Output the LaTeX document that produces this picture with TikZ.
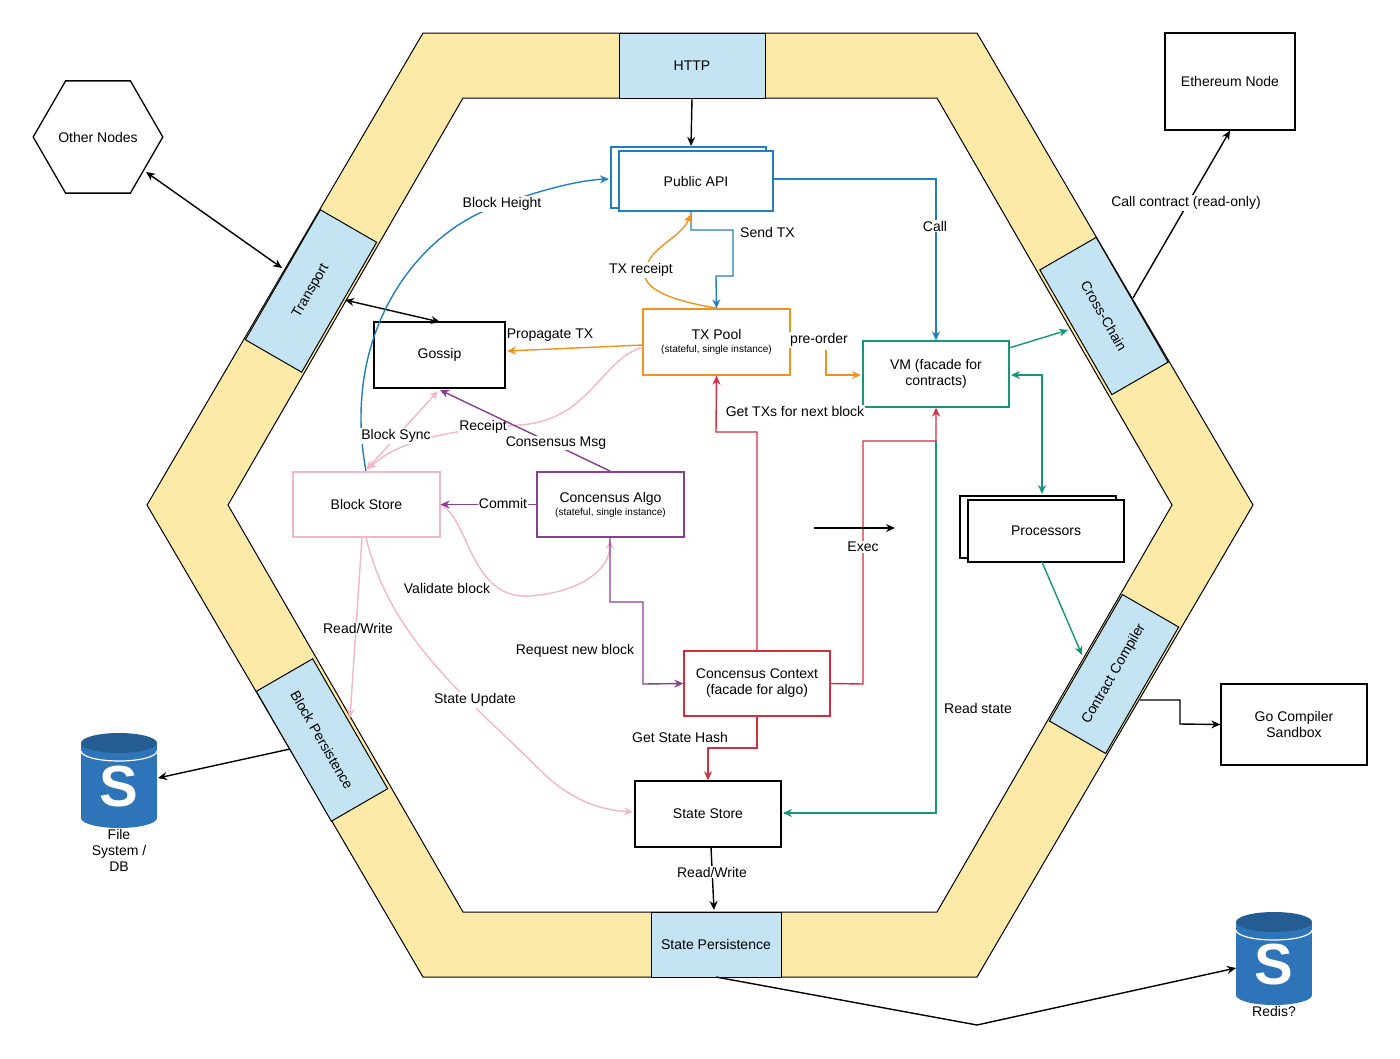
\documentclass[tikz,border=0pt]{standalone}
\usepackage{fontspec}
\setmainfont{Liberation Sans}
\usetikzlibrary{arrows.meta,shapes.geometric}
\definecolor{hexY}{HTML}{FDE9A8}
\definecolor{portB}{HTML}{C5E4F3}
\definecolor{apiB}{HTML}{1F7FBF}
\definecolor{poolO}{HTML}{F0921E}
\definecolor{vmG}{HTML}{16957A}
\definecolor{pinkP}{HTML}{F2B6CC}
\definecolor{purP}{HTML}{8A3E93}
\definecolor{redR}{HTML}{D12F3F}
\definecolor{cylB}{HTML}{2E74B8}
\begin{document}
\begin{tikzpicture}[x=1pt,y=-1pt,font=\fontsize{14}{16}\selectfont,
  box/.style={draw,line width=1.3pt,minimum width=146pt,minimum height=65pt,align=center,fill=white},
  port/.style={draw,line width=1pt,fill=portB,minimum width=#1,minimum height=65pt},
  lab/.style={fill=white,inner sep=1pt},
  arr/.style={line width=1.4pt,-{Stealth[length=9pt,width=8pt]}},
  darr/.style={line width=1.4pt,{Stealth[length=9pt,width=8pt]}-{Stealth[length=9pt,width=8pt]}}]
\useasboundingbox (0,0) rectangle (1400,1058);
% hexagons
\path[fill=hexY,draw=black,line width=1pt] (423,33)--(977,33)--(1253,505)--(977,977)--(423,977)--(147,505)--cycle;
\path[fill=white,draw=black,line width=1pt] (463,98)--(937,98)--(1172,505)--(937,912)--(463,912)--(228,505)--cycle;
% ports
\node[port=146pt] (http) at (692,65.5) {HTTP};
\node[port=130pt] (sp) at (716,944.5) {State Persistence};
\node[port=150pt,rotate=60] (tr) at (311,291) {Transport};
\node[port=150pt,rotate=-60] (bp) at (322,740) {Block Persistence};
\node[port=144pt,rotate=-60] (cc) at (1104,316) {Cross-Chain};
\node[port=146pt,rotate=60] (comp) at (1114,674) {Contract Compiler};
% outside nodes
\node[draw,line width=1.3pt,regular polygon,regular polygon sides=6,minimum size=128pt,inner sep=0pt] (on) at (98,137) {Other Nodes};
\node[box,minimum width=130pt,minimum height=97pt] (eth) at (1230,81.5) {Ethereum Node};
\node[box,minimum height=81pt] (go) at (1294,724.5) {Go Compiler\\Sandbox};
% cylinders
\foreach \n/\cx/\ty/\by/\t in {fs/119/733/828/{File\\System /\\DB},rd/1274/912/1005/{Redis?}}{
  \fill[cylB] (\cx-38,\ty+10) rectangle (\cx+38,\by-10);
  \fill[cylB] (\cx,\by-10) ellipse (38pt and 10pt);
  \fill[cylB!80!black] (\cx,\ty+10) ellipse (38pt and 10pt);
  \draw[white,line width=1.2pt] (\cx-38,\ty+18) arc[start angle=180,end angle=360,x radius=38pt,y radius=10pt];
  \node[text=white,font=\fontsize{58}{58}\selectfont\bfseries] (\n) at (\cx,\ty/2+\by/2+6) {S};
  \node[align=center,inner sep=0pt,anchor=north] at (\cx,\by+1) {\t};
}
% inner nodes
\draw[apiB,line width=1.3pt,fill=white] (611,147) rectangle (766,208);
\node[box,draw=apiB,minimum width=154pt,minimum height=60pt] (pub) at (696,181) {Public API};
\node[box,draw=poolO,minimum width=147pt,minimum height=66pt] (pool) at (716.5,342) {TX Pool\\[-3pt]{\fontsize{10}{12}\selectfont (stateful, single instance)}};
\node[box,draw=vmG,minimum height=66pt] (vm) at (936,374) {VM (facade for\\contracts)};
\node[box,minimum width=131pt,minimum height=66pt] (gos) at (439.5,355) {Gossip};
\node[box,draw=pinkP,minimum width=147pt] (bs) at (366.5,504.5) {Block Store};
\node[box,draw=purP,minimum width=147pt] (ca) at (610.5,504.5) {Concensus Algo\\[-3pt]{\fontsize{10}{12}\selectfont (stateful, single instance)}};
\draw[line width=1.3pt,fill=white] (960,496) rectangle (1116,558);
\node[box,minimum width=156pt,minimum height=62pt] (proc) at (1046,531) {Processors};
\node[box,draw=redR] (ctx) at (757,683.5) {Concensus Context\\(facade for algo)};
\node[box,minimum height=66pt] (ss) at (708,814) {State Store};
% connections
\draw[arr] (http.south) -- (691,146);
\draw[darr] (146,172) -- (282,268);
\draw[darr] (345,300) -- (440,322);
\draw[arr] (1133,298) -- (eth.south);
\node[lab] at (1186,203) {Call contract (read-only)};
\draw[arr] (1140,700) -- (1180,700) -- (1180,724) -- (go.west);
\draw[arr] (290,749) -- (158,778);
\draw[arr] (716,977) -- (977,1025) -- (1236,968);
\draw[arr] (711,847) -- (714,910);
\node[lab] at (712,872) {Read/Write};
% blue
\draw[arr,apiB] (pub.east|-0,179) -- (936,179) -- (vm.north);
\node[lab] at (935,226) {Call};
\draw[arr,apiB] (691,212) -- (691,230) -- (733,230) -- (733,276) -- (716,276) -- (pool.north);
\node[lab,anchor=west] at (739,232) {Send TX};
\draw[arr,apiB] (366,471) .. controls (340,330) and (420,230) .. (500,205) .. controls (540,190) and (580,180) .. (609,179);
\node[lab] at (502,204) {Block Height};
% orange
\draw[arr,poolO] (716,308) .. controls (680,302) and (646,292) .. (645,275) .. controls (645,248) and (680,240) .. (691,214);
\node[lab] at (641,270) {TX receipt};
\draw[arr,poolO] (643,345) -- (507,351);
\node[lab] at (550,335) {Propagate TX};
\draw[arr,poolO] (826,350) -- (826,375) -- (861,375);
\node[lab] at (819,340) {pre-order};
% pink
\draw[arr,pinkP] (643,347) .. controls (600,360) and (590,420) .. (520,425) .. controls (450,430) and (400,440) .. (368,469);
\draw[darr,pinkP] (366,470) -- (438,391);
\node[lab] at (483,427) {Receipt};
\node[lab] at (396,436) {Block Sync};
\draw[arr,pinkP] (bs.east) .. controls (470,520) and (470,600) .. (530,596) .. controls (580,592) and (610,570) .. (610,540);
\node[lab] at (447,588) {Validate block};
\draw[arr,pinkP] (362,537) -- (350,718);
\node[lab] at (358,628) {Read/Write};
\draw[arr,pinkP] (366,537) .. controls (390,640) and (470,700) .. (540,770) .. controls (570,800) and (600,810) .. (633,812);
\node[lab] at (475,700) {State Update};
% purple
\draw[arr,purP] (610,471) -- (440,390);
\node[lab] at (556,443) {Consensus Msg};
\draw[arr,purP] (ca.west) -- (bs.east);
\node[lab] at (503,503) {Commit};
\draw[arr,purP] (610,537) -- (610,602) -- (643,602) -- (643,684) -- (ctx.west);
\node[lab] at (575,651) {Request new block};
% red
\draw[arr,redR] (ctx.north) -- (757,432) -- (716,432) -- (pool.south);
\node[lab] at (795,411) {Get TXs for next block};
\draw[arr,vmG] (936,441) -- (936,813) -- (783,813);
\draw[arr,redR] (ctx.east) -- (863,684) -- (863,441) -- (936,441) -- (vm.south);
\node[lab] at (863,547) {Exec};
\draw[arr] (814,528) -- (895,528);
\node[lab] at (978,708) {Read state};
\draw[arr,redR] (ctx.south) -- (757,748) -- (708,748) -- (ss.north);
\node[lab] at (680,737) {Get State Hash};
% teal
\draw[arr,vmG] (1009,348) -- (1068,330);
\draw[darr,vmG] (1011,375) -- (1042,375) -- (1042,494);
\draw[arr,vmG] (1042,562) -- (1082,655);
\end{tikzpicture}
\end{document}
